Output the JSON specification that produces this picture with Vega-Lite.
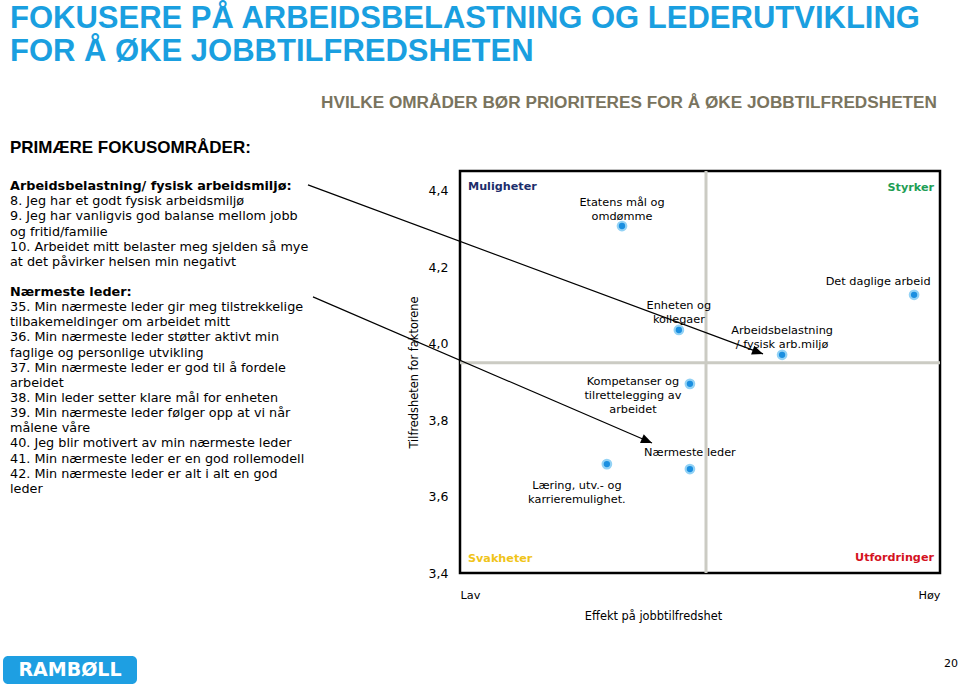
{
  "$schema": "https://vega.github.io/schema/vega-lite/v6.json",
  "background": "white",
  "padding": {"left": 3, "top": 3, "right": 2, "bottom": 4},
  "title": {
    "text": ["FOKUSERE PÅ ARBEIDSBELASTNING OG LEDERUTVIKLING", "FOR Å ØKE JOBBTILFREDSHETEN"],
    "anchor": "start", "frame": "bounds", "font": "Liberation Sans", "fontSize": 31, "fontWeight": "bold",
    "color": "#1a9fe0", "lineHeight": 33, "offset": 25, "dx": 7
  },
  "columns": 2,
  "align": "each",
  "bounds": "flush",
  "spacing": {"row": 83, "column": 157},
  "concat": [
    {
      "width": 300,
      "height": 402,
      "title": {"text": "PRIMÆRE FOKUSOMRÅDER:", "anchor": "start", "frame": "group", "font": "Liberation Sans", "fontSize": 17, "fontWeight": "bold", "color": "black", "offset": 14, "dx": 7},
      "data": {"values": [
        {"linje": 1, "tekst": "Arbeidsbelastning/ fysisk arbeidsmiljø:", "type": "overskrift"},
        {"linje": 2, "tekst": "8. Jeg har et godt fysisk arbeidsmiljø", "type": "punkt"},
        {"linje": 3, "tekst": "9. Jeg har vanligvis god balanse mellom jobb", "type": "punkt"},
        {"linje": 4, "tekst": "og fritid/familie", "type": "punkt"},
        {"linje": 5, "tekst": "10. Arbeidet mitt belaster meg sjelden så mye", "type": "punkt"},
        {"linje": 6, "tekst": "at det påvirker helsen min negativt", "type": "punkt"},
        {"linje": 8, "tekst": "Nærmeste leder:", "type": "overskrift"},
        {"linje": 9, "tekst": "35. Min nærmeste leder gir meg tilstrekkelige", "type": "punkt"},
        {"linje": 10, "tekst": "tilbakemeldinger om arbeidet mitt", "type": "punkt"},
        {"linje": 11, "tekst": "36. Min nærmeste leder støtter aktivt min", "type": "punkt"},
        {"linje": 12, "tekst": "faglige og personlige utvikling", "type": "punkt"},
        {"linje": 13, "tekst": "37. Min nærmeste leder er god til å fordele", "type": "punkt"},
        {"linje": 14, "tekst": "arbeidet", "type": "punkt"},
        {"linje": 15, "tekst": "38. Min leder setter klare mål for enheten", "type": "punkt"},
        {"linje": 16, "tekst": "39. Min nærmeste leder følger opp at vi når", "type": "punkt"},
        {"linje": 17, "tekst": "målene våre", "type": "punkt"},
        {"linje": 18, "tekst": "40. Jeg blir motivert av min nærmeste leder", "type": "punkt"},
        {"linje": 19, "tekst": "41. Min nærmeste leder er en god rollemodell", "type": "punkt"},
        {"linje": 20, "tekst": "42. Min nærmeste leder er alt i alt en god", "type": "punkt"},
        {"linje": 21, "tekst": "leder", "type": "punkt"}
      ]},
      "encoding": {
        "x": {"datum": 0, "type": "quantitative", "scale": {"domain": [0, 1], "nice": false, "zero": false}, "axis": null},
        "y": {"field": "linje", "type": "quantitative", "scale": {"domain": [0, 26.56], "reverse": true, "nice": false, "zero": false}, "axis": null},
        "text": {"field": "tekst"}
      },
      "layer": [
        {
          "transform": [{"filter": "datum.type == 'punkt'"}],
          "mark": {"type": "text", "align": "left", "baseline": "middle", "dx": 7, "font": "DejaVu Sans", "fontSize": 12.8, "color": "black"}
        },
        {
          "transform": [{"filter": "datum.type == 'overskrift'"}],
          "mark": {"type": "text", "align": "left", "baseline": "middle", "dx": 7, "font": "DejaVu Sans", "fontSize": 12.8, "fontWeight": "bold", "color": "black"}
        }
      ]
    },
    {
      "width": 480,
      "height": 402,
      "view": {"stroke": "black", "strokeWidth": 2.5},
      "title": {"text": "HVILKE OMRÅDER BØR PRIORITERES FOR Å ØKE JOBBTILFREDSHETEN", "anchor": "end", "frame": "group", "font": "Liberation Sans", "fontSize": 17.2, "fontWeight": "bold", "color": "#7a745e", "offset": 58, "dx": -3},
      "layer": [
        {
          "data": {"values": [{"skille": "effekt"}]},
          "mark": {"type": "rule", "color": "#cbcbc3", "strokeWidth": 3},
          "encoding": {"x": {"datum": 0.5125, "type": "quantitative", "scale": {"domain": [0, 1], "nice": false, "zero": false}}}
        },
        {
          "data": {"values": [{"skille": "tilfredshet"}]},
          "mark": {"type": "rule", "color": "#cbcbc3", "strokeWidth": 3},
          "encoding": {"y": {"datum": 3.95, "type": "quantitative", "scale": {"domain": [3.4, 4.452], "nice": false, "zero": false}}}
        },
        {
          "data": {"values": [
            {"fra": "Arbeidsbelastning/ fysisk arbeidsmiljø", "effekt": -0.3167, "tilfredshet": 4.4157, "effekt_til": 0.6313, "tilfredshet_til": 3.9733},
            {"fra": "Nærmeste leder", "effekt": -0.3063, "tilfredshet": 4.1225, "effekt_til": 0.4, "tilfredshet_til": 3.7403}
          ]},
          "layer": [
            {
              "mark": {"type": "rule", "color": "black", "strokeWidth": 1.2},
              "encoding": {
                "x": {"field": "effekt", "type": "quantitative", "title": "Effekt på jobbtilfredshet"},
                "y": {"field": "tilfredshet", "type": "quantitative", "title": "Tilfredsheten for faktorene"},
                "x2": {"field": "effekt_til"},
                "y2": {"field": "tilfredshet_til"}
              }
            },
            {
              "transform": [{"filter": "datum.fra == 'Nærmeste leder'"}],
              "mark": {"type": "point", "shape": "M0,0L-2,-0.85L-2,0.85Z", "size": 121, "filled": true, "color": "black", "opacity": 1, "angle": 23.3},
              "encoding": {
                "x": {"field": "effekt_til", "type": "quantitative", "title": "Effekt på jobbtilfredshet"},
                "y": {"field": "tilfredshet_til", "type": "quantitative", "title": "Tilfredsheten for faktorene"}
              }
            },
            {
              "transform": [{"filter": "datum.fra != 'Nærmeste leder'"}],
              "mark": {"type": "point", "shape": "M0,0L-2,-0.85L-2,0.85Z", "size": 121, "filled": true, "color": "black", "opacity": 1, "angle": 20.4},
              "encoding": {
                "x": {"field": "effekt_til", "type": "quantitative", "title": "Effekt på jobbtilfredshet"},
                "y": {"field": "tilfredshet_til", "type": "quantitative", "title": "Tilfredsheten for faktorene"}
              }
            }
          ]
        },
        {
          "data": {"values": [
            {"faktor": "Etatens mål og omdømme", "etikett": "Etatens mål og\nomdømme", "effekt": 0.3375, "tilfredshet": 4.308},
            {"faktor": "Det daglige arbeid", "etikett": "Det daglige arbeid", "effekt": 0.946, "tilfredshet": 4.128},
            {"faktor": "Enheten og kollegaer", "etikett": "Enheten og\nkollegaer", "effekt": 0.456, "tilfredshet": 4.036},
            {"faktor": "Arbeidsbelastning / fysisk arb.miljø", "etikett": "Arbeidsbelastning\n/ fysisk arb.miljø", "effekt": 0.671, "tilfredshet": 3.971},
            {"faktor": "Kompetanser og tilrettelegging av arbeidet", "etikett": "Kompetanser og\ntilrettelegging av\narbeidet", "effekt": 0.479, "tilfredshet": 3.895},
            {"faktor": "Nærmeste leder", "etikett": "Nærmeste leder", "effekt": 0.479, "tilfredshet": 3.672},
            {"faktor": "Læring, utv.- og karrieremulighet.", "etikett": "Læring, utv.- og\nkarrieremulighet.", "effekt": 0.306, "tilfredshet": 3.685}
          ]},
          "encoding": {
            "x": {
              "field": "effekt", "type": "quantitative",
              "scale": {"domain": [0, 1], "nice": false, "zero": false},
              "axis": {
                "values": [0, 1], "labelExpr": "datum.value == 0 ? 'Lav' : 'Høy'", "labelFlush": true,
                "ticks": false, "tickSize": 0, "domain": false, "grid": false,
                "labelPadding": 16, "labelFont": "DejaVu Sans", "labelFontSize": 11.3, "labelColor": "black",
                "title": "Effekt på jobbtilfredshet", "titleFont": "DejaVu Sans", "titleFontWeight": "normal", "titleFontSize": 11.4, "titleColor": "black",
                "titleX": 193, "titleY": 43, "titleBaseline": "middle", "titleAlign": "center"
              }
            },
            "y": {
              "field": "tilfredshet", "type": "quantitative",
              "scale": {"domain": [3.4, 4.452], "nice": false, "zero": false},
              "axis": {
                "values": [3.4, 3.6, 3.8, 4.0, 4.2, 4.4], "labelExpr": "replace(format(datum.value, '.1f'), '.', ',')",
                "ticks": false, "tickSize": 0, "domain": false, "grid": false,
                "labelPadding": 12, "labelFont": "DejaVu Sans", "labelFontSize": 12.5, "labelColor": "black",
                "title": "Tilfredsheten for faktorene", "titleFont": "DejaVu Sans", "titleFontWeight": "normal", "titleFontSize": 11.4, "titleColor": "black",
                "titleX": -46, "titleY": 201, "titleAngle": -90, "titleAlign": "center", "titleBaseline": "middle"
              }
            }
          },
          "layer": [
            {"mark": {"type": "point", "filled": true, "size": 115, "color": "#93d2f5", "opacity": 1}},
            {"mark": {"type": "point", "filled": true, "size": 40, "color": "#1b8fe0", "opacity": 1}},
            {
              "transform": [{"filter": {"field": "faktor", "oneOf": ["Etatens mål og omdømme", "Enheten og kollegaer", "Arbeidsbelastning / fysisk arb.miljø"]}}],
              "mark": {"type": "text", "lineBreak": "\n", "lineHeight": 14, "align": "center", "baseline": "middle", "dy": -23.5, "font": "DejaVu Sans", "fontSize": 11.3, "color": "black"},
              "encoding": {"text": {"field": "etikett"}}
            },
            {
              "transform": [{"filter": "datum.faktor == 'Det daglige arbeid'"}],
              "mark": {"type": "text", "lineBreak": "\n", "lineHeight": 14, "align": "center", "baseline": "middle", "dx": -36, "dy": -13, "font": "DejaVu Sans", "fontSize": 11.3, "color": "black"},
              "encoding": {"text": {"field": "etikett"}}
            },
            {
              "transform": [{"filter": "datum.faktor == 'Kompetanser og tilrettelegging av arbeidet'"}],
              "mark": {"type": "text", "lineBreak": "\n", "lineHeight": 14, "align": "center", "baseline": "middle", "dx": -57, "dy": -2, "font": "DejaVu Sans", "fontSize": 11.3, "color": "black"},
              "encoding": {"text": {"field": "etikett"}}
            },
            {
              "transform": [{"filter": "datum.faktor == 'Nærmeste leder'"}],
              "mark": {"type": "text", "lineBreak": "\n", "lineHeight": 14, "align": "center", "baseline": "middle", "dy": -16, "font": "DejaVu Sans", "fontSize": 11.3, "color": "black"},
              "encoding": {"text": {"field": "etikett"}}
            },
            {
              "transform": [{"filter": "datum.faktor == 'Læring, utv.- og karrieremulighet.'"}],
              "mark": {"type": "text", "lineBreak": "\n", "lineHeight": 14, "align": "center", "baseline": "middle", "dx": -30, "dy": 22, "font": "DejaVu Sans", "fontSize": 11.3, "color": "black"},
              "encoding": {"text": {"field": "etikett"}}
            }
          ]
        },
        {
          "data": {"values": [{"kvadrant": "Muligheter"}]},
          "mark": {"type": "text", "align": "left", "baseline": "middle", "dx": 8, "dy": 16, "font": "DejaVu Sans", "fontSize": 11.2, "fontWeight": "bold", "color": "#1c2d6b"},
          "encoding": {"x": {"datum": 0, "type": "quantitative"}, "y": {"datum": 4.452, "type": "quantitative"}, "text": {"field": "kvadrant"}}
        },
        {
          "data": {"values": [{"kvadrant": "Styrker"}]},
          "mark": {"type": "text", "align": "right", "baseline": "middle", "dx": -6, "dy": 17, "font": "DejaVu Sans", "fontSize": 11.2, "fontWeight": "bold", "color": "#1e9e55"},
          "encoding": {"x": {"datum": 1, "type": "quantitative"}, "y": {"datum": 4.452, "type": "quantitative"}, "text": {"field": "kvadrant"}}
        },
        {
          "data": {"values": [{"kvadrant": "Svakheter"}]},
          "mark": {"type": "text", "align": "left", "baseline": "middle", "dx": 8, "dy": -14, "font": "DejaVu Sans", "fontSize": 11.2, "fontWeight": "bold", "color": "#f0c419"},
          "encoding": {"x": {"datum": 0, "type": "quantitative"}, "y": {"datum": 3.4, "type": "quantitative"}, "text": {"field": "kvadrant"}}
        },
        {
          "data": {"values": [{"kvadrant": "Utfordringer"}]},
          "mark": {"type": "text", "align": "right", "baseline": "middle", "dx": -6, "dy": -15, "font": "DejaVu Sans", "fontSize": 11.2, "fontWeight": "bold", "color": "#d4121e"},
          "encoding": {"x": {"datum": 1, "type": "quantitative"}, "y": {"datum": 3.4, "type": "quantitative"}, "text": {"field": "kvadrant"}}
        }
      ]
    },
    {
      "width": 134,
      "height": 28,
      "data": {"values": [{"logo": "RAMBØLL"}]},
      "layer": [
        {
          "mark": {"type": "rect", "color": "#1e9fe2", "cornerRadius": 5},
          "encoding": {
            "x": {"datum": 0, "type": "quantitative", "scale": {"domain": [0, 1], "nice": false, "zero": false}, "axis": null},
            "x2": {"datum": 1}
          }
        },
        {
          "mark": {"type": "text", "color": "white", "font": "DejaVu Sans", "fontWeight": "bold", "fontSize": 19, "align": "center", "baseline": "middle"},
          "encoding": {"x": {"datum": 0.5, "type": "quantitative"}, "text": {"field": "logo"}}
        }
      ]
    },
    {
      "width": 498,
      "height": 28,
      "data": {"values": [{"side": "20"}]},
      "mark": {"type": "text", "color": "black", "font": "DejaVu Sans", "fontSize": 11, "align": "right", "baseline": "middle", "dy": -6},
      "encoding": {
        "x": {"datum": 1, "type": "quantitative", "scale": {"domain": [0, 1], "nice": false, "zero": false}, "axis": null},
        "text": {"field": "side"}
      }
    }
  ],
  "config": {
    "font": "DejaVu Sans",
    "view": {"stroke": null}
  }
}
